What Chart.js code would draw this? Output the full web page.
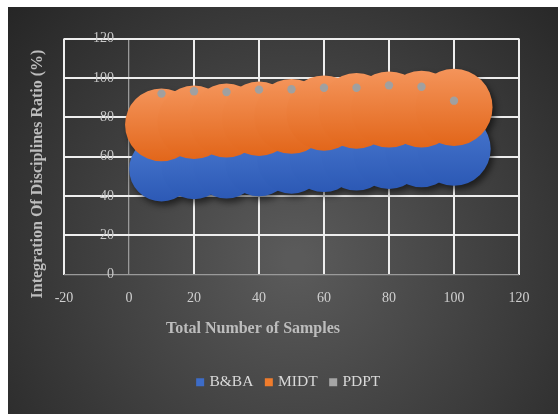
<!DOCTYPE html>
<html>
<head>
<meta charset="utf-8">
<script src="https://cdn.jsdelivr.net/npm/chart.js@4.4.1/dist/chart.umd.min.js"></script>
<style>
  html, body { margin: 0; padding: 0; background: #fff; }
</style>
</head>
<body>
<canvas id="chart" width="558" height="414"></canvas>
<script>
const samples = [10, 20, 30, 40, 50, 60, 70, 80, 90, 100];
const bbaValues = [53.6, 54.9, 55.5, 56.9, 58.5, 59.6, 60.6, 61.7, 62.8, 63.8];
const bbaSizes = [60, 61, 63, 65, 67, 69, 71, 73, 75, 77];
const midtValues = [76.1, 77.4, 78.3, 79.2, 80.4, 82.1, 83.2, 83.9, 84.1, 85.0];
const midtSizes = [76, 77, 78, 79, 80, 81, 82, 83, 84, 85];
const pdptValues = [92.0, 93.2, 92.8, 94.0, 94.2, 95.0, 95.0, 96.2, 95.5, 88.4];
const pdptSizes = [1, 1, 1, 1, 1, 1, 1, 1, 1, 1];
const seriesNames = ['B&BA', 'MIDT', 'PDPT'];
const xTitle = 'Total Number of Samples';
const yTitle = 'Integration Of Disciplines Ratio (%)';

const serif = '"Liberation Serif", "Times New Roman", serif';
const bubbleScale = 4.18;
const legendColors = ['#3d6cc8', '#f07c2c', '#a5a5a5'];

function bubbles(values, sizes) {
    return samples.map((x, i) => ({ x: x, y: values[i], r: bubbleScale * Math.sqrt(sizes[i]) }));
}

// vertical gradient inside each bubble
function bubbleFill(top, bottom) {
    return (c) => {
        const chart = c.chart;
        if (c.type !== 'data' || !chart.chartArea) return bottom;
        const y = chart.scales.y.getPixelForValue(c.raw.y);
        const r = c.raw.r;
        const g = chart.ctx.createLinearGradient(0, y - r, 0, y + r);
        g.addColorStop(0, top);
        g.addColorStop(1, bottom);
        return g;
    };
}

const background = {
    id: 'background',
    beforeDraw(chart) {
        const ctx = chart.ctx;
        ctx.save();
        ctx.fillStyle = '#ffffff';
        ctx.fillRect(0, 0, chart.width, chart.height);
        const g = ctx.createRadialGradient(295, 260, 10, 295, 260, 380);
        g.addColorStop(0, '#5a5a5a');
        g.addColorStop(1, '#262626');
        ctx.fillStyle = g;
        ctx.fillRect(8, 7, chart.width - 8, chart.height - 7);
        ctx.restore();
    }
};

const bubbleShadow = {
    id: 'bubbleShadow',
    beforeDatasetsDraw(chart) {
        const ctx = chart.ctx;
        ctx.save();
        ctx.filter = 'blur(3px)';
        ctx.fillStyle = 'rgba(0, 0, 0, 0.55)';
        ctx.beginPath();
        [0, 1].forEach(di => {
            chart.getDatasetMeta(di).data.forEach(el => {
                const r = el.options.radius;
                ctx.moveTo(el.x + 3 + r, el.y + 4);
                ctx.arc(el.x + 3, el.y + 4, r, 0, Math.PI * 2);
            });
        });
        ctx.fill();
        ctx.restore();
    }
};

const axisTitles = {
    id: 'axisTitles',
    afterDraw(chart) {
        const ctx = chart.ctx;
        ctx.save();
        ctx.fillStyle = '#bdbdbd';
        ctx.font = 'bold 16px ' + serif;
        ctx.textAlign = 'center';
        ctx.textBaseline = 'middle';
        ctx.fillText(xTitle, 253, 329);
        ctx.translate(38, 174);
        ctx.rotate(-Math.PI / 2);
        ctx.fillText(yTitle, 0, 0);
        ctx.restore();
    }
};

const gridColor = (c) => c.tick && c.tick.value === 0 ? '#9a9a9a' : '#eeeeee';
const gridWidth = (c) => c.tick && c.tick.value === 0 ? 1.3 : 2;

new Chart(document.getElementById('chart'), {
    type: 'bubble',
    data: {
        datasets: [{
            label: seriesNames[0],
            data: bubbles(bbaValues, bbaSizes),
            backgroundColor: bubbleFill('#4a79d0', '#2c59b5'),
            borderWidth: 0,
            order: 3
        }, {
            label: seriesNames[1],
            data: bubbles(midtValues, midtSizes),
            backgroundColor: bubbleFill('#f4945a', '#e2661a'),
            borderWidth: 0,
            order: 2
        }, {
            label: seriesNames[2],
            data: bubbles(pdptValues, pdptSizes),
            backgroundColor: '#a0a0a0',
            borderWidth: 0,
            order: 1
        }]
    },
    options: {
        responsive: false,
        animation: false,
        layout: { padding: { left: 60, right: 39, top: 37, bottom: 14 } },
        scales: {
            x: {
                type: 'linear',
                min: -20,
                max: 120,
                afterFit: (s) => { s.height = 86; },
                ticks: {
                    stepSize: 20,
                    padding: 15,
                    color: '#cfcfcf',
                    font: { family: serif, size: 14 }
                },
                grid: { color: gridColor, lineWidth: gridWidth, drawTicks: false },
                border: { display: false }
            },
            y: {
                min: 0,
                max: 120,
                afterFit: (s) => { s.width = 4; },
                ticks: {
                    stepSize: 20,
                    mirror: true,
                    crossAlign: 'far',
                    padding: 29,
                    color: '#c8c8c8',
                    font: { family: serif, size: 14 }
                },
                grid: { color: gridColor, lineWidth: gridWidth, drawTicks: false },
                border: { display: false }
            }
        },
        plugins: {
            tooltip: { enabled: false },
            legend: {
                position: 'bottom',
                labels: {
                    color: '#d9d9d9',
                    font: { family: serif, size: 15.5 },
                    usePointStyle: true,
                    pointStyle: 'rect',
                    boxWidth: 3,
                    boxHeight: 8,
                    padding: 14,
                    sort: (a, b) => a.datasetIndex - b.datasetIndex,
                    generateLabels: (chart) => {
                        const items = Chart.defaults.plugins.legend.labels.generateLabels(chart);
                        items.forEach(it => {
                            it.fillStyle = legendColors[it.datasetIndex];
                            it.strokeStyle = legendColors[it.datasetIndex];
                            it.lineWidth = 0;
                            it.pointStyle = 'rect';
                        });
                        return items;
                    }
                }
            }
        }
    },
    plugins: [background, bubbleShadow, axisTitles]
});
</script>
</body>
</html>
